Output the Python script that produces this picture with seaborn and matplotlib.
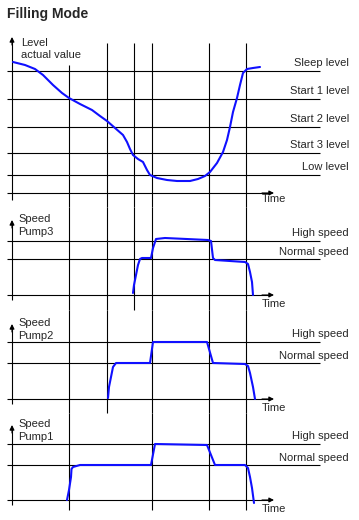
import numpy as np
import pandas as pd
import matplotlib
matplotlib.use("Agg")
import matplotlib.pyplot as plt
import seaborn as sns

sns.set_theme(style="white")
plt.rcParams['font.family'] = ['Liberation Sans', 'DejaVu Sans']
plt.rcParams['lines.solid_joinstyle'] = 'round'
plt.rcParams['lines.solid_capstyle'] = 'round'

# ---------------- data ----------------
title = "Filling Mode"
level_names = ["Sleep level", "Start 1 level", "Start 2 level", "Start 3 level", "Low level"]
level_values = [122, 94, 66, 40, 18]
level_time = [1, 13, 23, 31, 41, 50, 57, 68, 80, 88, 95, 103, 111, 115, 118, 121,
              126, 131, 135, 138, 145, 155, 165, 178, 186, 193, 198, 205, 211,
              215, 218, 221, 225, 228, 231, 235, 241, 248]
level_actual = [131, 128, 124, 118, 108, 100, 95, 89, 83, 77, 72, 65, 58, 51, 44, 38,
                34, 31, 23, 18, 15, 13, 12, 12, 14, 17, 21, 30, 41,
                53, 66, 81, 95, 108, 120, 124, 125, 126]

speed_names = ["High speed", "Normal speed"]
pump_names = ["Pump3", "Pump2", "Pump1"]
pump_high = [54, 57, 56]
pump_normal = [36, 36, 35]

pump3_time = [121, 122, 124, 126, 128, 130, 139, 141, 144, 153, 196, 199, 201, 203,
              233, 236, 238, 240, 241]
pump3_speed = [2, 10, 20, 30, 36, 37, 37, 47, 56, 57, 55, 54, 37, 35,
               33, 31, 23, 13, 0]
pump2_time = [96, 97, 99, 101, 104, 108, 138, 141, 145, 195, 201, 233, 236, 238,
              241, 243]
pump2_speed = [1, 12, 22, 32, 36, 36, 36, 57, 57, 57, 36, 35, 33, 26, 12, 0]
pump1_time = [55, 57, 59, 59.5, 61, 68, 139, 143, 195, 203, 233, 236, 238, 240, 242]
pump1_speed = [0, 10, 23, 31, 33, 35, 35, 56, 55, 35, 35, 32, 23, 12, -3]

event_times = [57, 95, 122, 140, 197, 234]
pump_events = [
    [57, 95, 122, 140, 197, 234],
    [57, 95, 140, 197, 234],
    [57, 140, 197, 234],
]

# ---------------- layout ----------------
W, H = 359, 520
fig = plt.figure(figsize=(W / 100, H / 100), dpi=100)
fig.patch.set_facecolor("white")

def add_panel(ytop, ybot):
    ax = fig.add_axes([0, 1 - ybot / H, 1, (ybot - ytop) / H])
    ax.set_xlim(-12, W - 12)
    return ax

LW = 0.8
BLUE = "#1010ff"
FS = 8

def axis_arrows(ax, ytop, ybottom):
    ax.plot([-5, 258], [0, 0], color="black", lw=LW, clip_on=False,
            solid_capstyle="butt")
    ax.plot([0, 0], [ybottom, ytop - 2], color="black", lw=LW, clip_on=False,
            solid_capstyle="butt")
    ax.annotate("", xy=(262, 0), xytext=(250, 0),
                arrowprops=dict(arrowstyle="-|>", color="black", lw=LW,
                                mutation_scale=7, shrinkA=0, shrinkB=0))
    ax.annotate("", xy=(0, ytop), xytext=(0, ytop - 8),
                arrowprops=dict(arrowstyle="-|>", color="black", lw=LW,
                                mutation_scale=7, shrinkA=0, shrinkB=0))

# ---- level panel ----
ax0 = add_panel(30, 207)
ax0.set_ylim(-14, 163)
for name, v in zip(level_names, level_values):
    ax0.plot([-5, 308], [v, v], color="black", lw=LW, solid_capstyle="butt")
    ax0.text(337, v + 8, name, ha="right", va="center", fontsize=FS)
for t in event_times:
    top = 128 if t == event_times[0] else 150
    ax0.plot([t, t], [top, -14], color="black", lw=LW, clip_on=False,
             solid_capstyle="butt")
axis_arrows(ax0, 156, -7)
df0 = pd.DataFrame({"t": level_time, "v": level_actual})
sns.lineplot(data=df0, x="t", y="v", ax=ax0, color=BLUE, lw=1.5,
             sort=False, estimator=None)
ax0.text(9, 150, "Level", ha="left", va="center", fontsize=FS)
ax0.text(9, 138, "actual value", ha="left", va="center", fontsize=FS)
ax0.text(250, -6, "Time", ha="left", va="center", fontsize=FS)
ax0.axis("off")

# ---- pump panels ----
panel_bounds = [(207, 310, 295), (310, 413, 399), (413, 515, 500)]
pump_times = [pump3_time, pump2_time, pump1_time]
pump_speeds = [pump3_speed, pump2_speed, pump1_speed]
for i, (ytop, ybot, base) in enumerate(panel_bounds):
    ax = add_panel(ytop, ybot)
    lo, hi = base - ybot, base - ytop
    ax.set_ylim(lo, hi)
    for name, v, dy in zip(speed_names, [pump_high[i], pump_normal[i]], [8, 7]):
        ax.plot([-5, 308], [v, v], color="black", lw=LW, solid_capstyle="butt")
        ax.text(337, v + dy, name, ha="right", va="center", fontsize=FS)
    bottom = -10 if i == 2 else lo
    for t in pump_events[i]:
        ax.plot([t, t], [hi, bottom], color="black", lw=LW, clip_on=False,
                solid_capstyle="butt")
    axis_arrows(ax, 75, -5)
    df = pd.DataFrame({"t": pump_times[i], "s": pump_speeds[i]})
    sns.lineplot(data=df, x="t", y="s", ax=ax, color=BLUE, lw=1.5,
                 sort=False, estimator=None)
    ax.text(6, 76, "Speed", ha="left", va="center", fontsize=FS)
    ax.text(6, 63, pump_names[i], ha="left", va="center", fontsize=FS)
    ax.text(250, -9, "Time", ha="left", va="center", fontsize=FS)
    ax.axis("off")

fig.text(7 / W, 1 - 14 / H, title, ha="left", va="center", fontsize=10,
         fontweight="bold")

fig.savefig("out.png", dpi=100, facecolor="white")
